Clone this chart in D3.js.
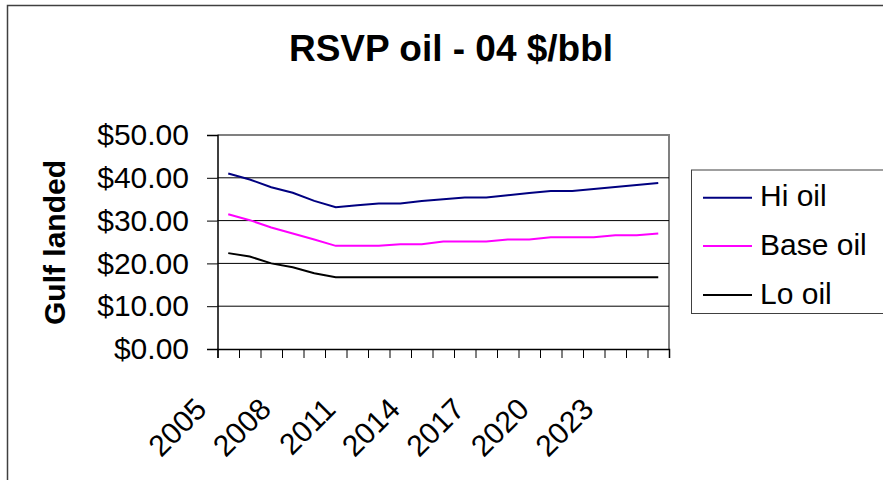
<!DOCTYPE html>
<html>
<head>
<meta charset="utf-8">
<script src="https://cdn.jsdelivr.net/npm/d3@7"></script>
<style>
  html, body { margin: 0; padding: 0; background: #fff; }
  svg { display: block; font-family: Arial, "Liberation Sans", sans-serif; }
</style>
</head>
<body>
<svg id="chart" width="883" height="480"></svg>
<script>
const years = d3.range(2005, 2026).map(String);
const hiOil   = [41.0, 39.6, 37.8, 36.5, 34.6, 33.1, 33.6, 34.0, 34.0, 34.6, 35.0, 35.4, 35.4, 35.9, 36.45, 36.9, 36.9, 37.4, 37.85, 38.3, 38.8];
const baseOil = [31.5, 30.1, 28.4, 27.0, 25.6, 24.1, 24.1, 24.1, 24.5, 24.5, 25.1, 25.1, 25.1, 25.6, 25.6, 26.1, 26.1, 26.1, 26.6, 26.6, 27.0];
const loOil   = [22.4, 21.6, 20.0, 19.1, 17.7, 16.75, 16.75, 16.75, 16.75, 16.75, 16.75, 16.75, 16.75, 16.75, 16.75, 16.75, 16.75, 16.75, 16.75, 16.75, 16.75];
const labeledYears = ["2005", "2008", "2011", "2014", "2017", "2020", "2023"];
const yTicks = [0, 10, 20, 30, 40, 50];
const seriesNames = ["Hi oil", "Base oil", "Lo oil"];
const seriesColors = ["#000080", "#FF00FF", "#000000"];
const seriesData = [hiOil, baseOil, loOil];
const title = "RSVP oil - 04 $/bbl";
const yTitle = "Gulf landed";

const svg = d3.select("#chart");
const L = 217.5, R = 669, T = 135, B = 349;

// outer chart border (extends beyond visible area)
svg.append("rect").attr("x", 7.5).attr("y", 5.5).attr("width", 900).attr("height", 500)
  .attr("fill", "#fff").attr("stroke", "#404040").attr("stroke-width", 1.5);

const x = d3.scaleBand().domain(years).range([L, R]).padding(0);
const xi = d3.scaleLinear().domain([0, years.length]).range([L, R]);
const y = d3.scaleLinear().domain([0, 50]).range([B, T]);
const cx = d => x(d) + x.bandwidth() / 2;

// plot area border (grey, top & right)
svg.append("path")
  .attr("d", `M${L},${T}H${R}V${B}`)
  .attr("fill", "none").attr("stroke", "#808080").attr("stroke-width", 2);

// gridlines
svg.append("g").selectAll("line").data(yTicks.filter(v => v > 0 && v < 50)).join("line")
  .attr("x1", L).attr("x2", R).attr("y1", d => y(d)).attr("y2", d => y(d))
  .attr("stroke", "#000").attr("stroke-width", 1);

// y axis
const yAxis = svg.append("g").attr("transform", `translate(${L},0)`)
  .call(d3.axisLeft(y).tickValues(yTicks).tickSize(10.5).tickPadding(18)
    .tickFormat(d => "$" + d.toFixed(2)));
yAxis.select(".domain").attr("stroke", "#000").attr("stroke-width", 1.5);
yAxis.selectAll(".tick line").attr("stroke", "#000");
yAxis.selectAll("text").attr("font-size", 30).attr("fill", "#000")
  .attr("font-family", "Arial, 'Liberation Sans', sans-serif");

// x axis (ticks at category boundaries)
const xAxis = svg.append("g").attr("transform", `translate(0,${B})`)
  .call(d3.axisBottom(xi).tickValues(d3.range(years.length + 1)).tickSize(9).tickFormat(""));
xAxis.select(".domain").attr("stroke", "#000").attr("stroke-width", 1.5);
xAxis.selectAll(".tick line").attr("stroke", "#000");

// x labels
svg.append("g").selectAll("text").data(labeledYears).join("text")
  .attr("transform", d => `translate(${cx(d) - 20},${B + 62}) rotate(-45)`)
  .attr("text-anchor", "end")
  .attr("font-size", 30).attr("fill", "#000")
  .text(d => d);

// lines
const line = d3.line().x((d, i) => cx(years[i])).y(d => y(d));
svg.append("g").selectAll("path").data(seriesData).join("path")
  .attr("d", d => line(d))
  .attr("fill", "none")
  .attr("stroke", (d, i) => seriesColors[i])
  .attr("stroke-width", 2);

// title
svg.append("text").attr("x", 451).attr("y", 61).attr("text-anchor", "middle")
  .attr("font-size", 37).attr("font-weight", "bold").attr("fill", "#000").text(title);

// y title
svg.append("text").attr("transform", "translate(65,242.5) rotate(-90)")
  .attr("text-anchor", "middle").attr("font-size", 30).attr("font-weight", "bold")
  .attr("fill", "#000").text(yTitle);

// legend
const lg = svg.append("g");
lg.append("rect").attr("x", 691.5).attr("y", 170).attr("width", 250).attr("height", 143.5)
  .attr("fill", "#fff").attr("stroke", "#404040").attr("stroke-width", 1);
const legendY = [197.7, 246, 295];
seriesNames.forEach((name, i) => {
  lg.append("line").attr("x1", 703).attr("x2", 752).attr("y1", legendY[i]).attr("y2", legendY[i])
    .attr("stroke", seriesColors[i]).attr("stroke-width", 2);
  lg.append("text").attr("x", 760).attr("y", legendY[i] + 8.5).attr("font-size", 30)
    .attr("fill", "#000").text(name);
});
</script>
</body>
</html>
